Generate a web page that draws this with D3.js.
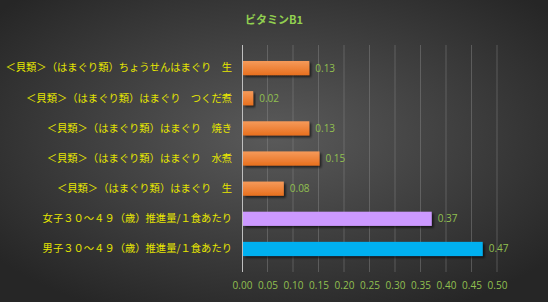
<!DOCTYPE html>
<html>
<head>
<meta charset="utf-8">
<script src="https://cdn.jsdelivr.net/npm/d3@7"></script>
<style>
  html, body { margin: 0; padding: 0; background: #333; }
  svg { display: block; }
</style>
</head>
<body>
<div id="chart"></div>
<script>
// data
var categories = [
  "＜貝類＞（はまぐり類）ちょうせんはまぐり　生",
  "＜貝類＞（はまぐり類）はまぐり　つくだ煮",
  "＜貝類＞（はまぐり類）はまぐり　焼き",
  "＜貝類＞（はまぐり類）はまぐり　水煮",
  "＜貝類＞（はまぐり類）はまぐり　生",
  "女子３０～４９（歳）推進量/１食あたり",
  "男子３０～４９（歳）推進量/１食あたり"
];
var values = [0.13, 0.02, 0.13, 0.15, 0.08, 0.37, 0.47];
var barColors = ["orange", "orange", "orange", "orange", "orange", "#cc99ff", "#00b0f0"];
var xTicks = [0, 0.05, 0.1, 0.15, 0.2, 0.25, 0.3, 0.35, 0.4, 0.45, 0.5];
var title = "ビタミンB1";

var W = 548, H = 302;
var margin = {top: 45, right: 51, bottom: 30, left: 242},
    width = W - margin.left - margin.right,
    height = H - margin.top - margin.bottom;

var root = d3.select("#chart").append("svg")
    .attr("width", W)
    .attr("height", H);

var defs = root.append("defs");
var bg = defs.append("radialGradient").attr("id", "bg")
    .attr("cx", "50%").attr("cy", "45%").attr("r", "65%");
bg.append("stop").attr("offset", "0%").attr("stop-color", "#5a5a5a");
bg.append("stop").attr("offset", "100%").attr("stop-color", "#262626");

var og = defs.append("linearGradient").attr("id", "orange")
    .attr("x1", 0).attr("y1", 0).attr("x2", 0).attr("y2", 1);
og.append("stop").attr("offset", "0%").attr("stop-color", "#f59a5a");
og.append("stop").attr("offset", "100%").attr("stop-color", "#e8701f");

var sh = defs.append("filter").attr("id", "shadow")
    .attr("x", "-10%").attr("y", "-20%").attr("width", "130%").attr("height", "160%");
sh.append("feDropShadow").attr("dx", 2).attr("dy", 2).attr("stdDeviation", 1.2)
    .attr("flood-color", "#000").attr("flood-opacity", 0.6);

root.append("rect").attr("width", W).attr("height", H).attr("fill", "url(#bg)");

root.append("text")
    .attr("x", 274).attr("y", 24)
    .attr("text-anchor", "middle")
    .style("font-family", "'Noto Sans CJK JP', sans-serif")
    .style("font-size", "11px")
    .style("font-weight", "bold")
    .style("fill", "#92d050")
    .text(title);

var svg = root.append("g")
    .attr("transform", "translate(" + margin.left + "," + margin.top + ")");

var x = d3.scaleLinear().domain([0, 0.5]).range([0, width]);
var y = d3.scaleBand().domain(categories).range([0, height]).padding(0.53);

// grid
svg.selectAll(".grid").data(xTicks.slice(1)).enter().append("line")
    .attr("x1", d => x(d)).attr("x2", d => x(d))
    .attr("y1", 0).attr("y2", height)
    .attr("stroke", "#8a8a8a").attr("stroke-opacity", 0.45).attr("stroke-width", 1);

// x axis
var xAxis = svg.append("g")
    .attr("transform", "translate(0," + height + ")")
    .call(d3.axisBottom(x).tickValues(xTicks).tickFormat(d3.format(".2f")).tickSize(0).tickPadding(10));
xAxis.select(".domain").remove();
xAxis.selectAll("text")
    .style("font-family", "'Open Sans', sans-serif")
    .style("font-size", "10px")
    .style("fill", "#92c050");

// y axis
var yAxis = svg.append("g")
    .call(d3.axisLeft(y).tickSize(0).tickPadding(10));
yAxis.select(".domain").attr("stroke", "#bfbfbf").attr("d", "M0.5,0V" + height);
yAxis.selectAll("text")
    .style("font-family", "'Noto Sans CJK JP', sans-serif")
    .style("font-size", "10.3px")
    .style("fill", "#e6e600");

// bars
svg.selectAll(".bar").data(values).enter().append("rect")
    .attr("x", x(0) + 1)
    .attr("y", (d, i) => y(categories[i]))
    .attr("width", d => x(d) - x(0))
    .attr("height", y.bandwidth())
    .attr("fill", (d, i) => barColors[i] == "orange" ? "url(#orange)" : barColors[i])
    .attr("filter", "url(#shadow)");

// value labels
svg.selectAll(".val").data(values).enter().append("text")
    .attr("x", d => x(d) + 7)
    .attr("y", (d, i) => y(categories[i]) + y.bandwidth() / 2)
    .attr("dy", "0.35em")
    .style("font-family", "'Open Sans', sans-serif")
    .style("font-size", "10px")
    .style("fill", "#92c050")
    .text(d => d3.format(".2f")(d));
</script>
</body>
</html>
